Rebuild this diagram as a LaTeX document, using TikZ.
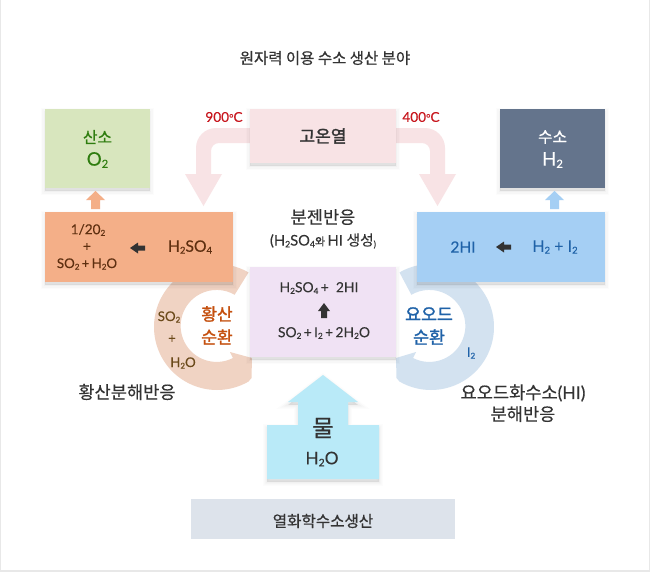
\documentclass[tikz,border=0pt]{standalone}
\usepackage{fontspec}
\setmainfont{Lato}[FakeBold=0.15]
\newfontfamily\kr{Noto Sans CJK KR}[FakeBold=0.3]
\newfontfamily\krb{Noto Sans CJK KR}[FakeBold=0.8]
\newfontfamily\krbb{Noto Sans CJK KR}[FakeBold=1.6]
\usetikzlibrary{shadows}
\definecolor{ink}{HTML}{333333}
\definecolor{heat}{HTML}{F8E3E5}
\definecolor{oxy}{HTML}{D8E6BE}
\definecolor{hyd}{HTML}{64748C}
\definecolor{org}{HTML}{F4AF88}
\definecolor{blu}{HTML}{A5CFF4}
\definecolor{pur}{HTML}{F0E2F4}
\definecolor{wat}{HTML}{B9EAF8}
\definecolor{bar}{HTML}{DDE3EB}
\definecolor{ringo}{HTML}{F0D3C3}
\definecolor{ringb}{HTML}{D3E2F0}
\definecolor{redt}{HTML}{C8171E}
\definecolor{grn}{HTML}{2F7D0F}
\definecolor{brn}{HTML}{5E2F10}
\definecolor{bluet}{HTML}{1F62A8}
\definecolor{olv}{HTML}{6B4A1A}
\definecolor{orgt}{HTML}{C5500F}
\newcommand{\lsub}[1]{\raisebox{-0.12em}{\scalebox{0.6}{#1}}}
\newcommand{\fs}[1]{\fontsize{#1}{#1}\selectfont}
\tikzset{
  softshadow/.style={
    general shadow={shadow xshift=0pt,shadow yshift=-2.2pt,draw=black,line width=6pt,fill=black,opacity=.012},
    general shadow={shadow xshift=0pt,shadow yshift=-2.2pt,draw=black,line width=4pt,fill=black,opacity=.018},
    general shadow={shadow xshift=0pt,shadow yshift=-2.2pt,draw=black,line width=2pt,fill=black,opacity=.025},
    general shadow={shadow xshift=0pt,shadow yshift=-2.2pt,fill=black,opacity=.03}},
  boxn/.style={rectangle,inner sep=0pt,outer sep=0pt,anchor=north west},
  lbl/.style={inner sep=0pt,outer sep=0pt,align=center,text=ink}
}
\begin{document}
\begin{tikzpicture}[x=0.75pt,y=-0.75pt]
\useasboundingbox (0,0) rectangle (650,572);
\fill[white] (0,0) rectangle (650,572);
\draw[color=black!9,line width=1.2pt] (0.5,0) -- (0.5,571.2) -- (649.5,571.2) -- (649.5,0);

% rings
\fill[ringo] (217,327) ++(-60:63) arc[start angle=-60,end angle=-300,radius=63]
  -- (251.5,378) -- (252,358) -- (230,352) -- (233,358)
  arc[start angle=63,end angle=300,radius=36] -- cycle;
\fill[ringb] (431,327) ++(-120:63) arc[start angle=-120,end angle=120,radius=63]
  -- (396.5,378) -- (396,358) -- (416,352) -- (413,358)
  arc[start angle=117,end angle=-120,radius=36] -- cycle;

% heat arrows
\fill[heat] (252,128) -- (216,128) arc[start angle=270,end angle=180,radius=20] -- (196,174) -- (185,174) -- (203.5,206) -- (222,174) -- (211,174) -- (211,151) arc[start angle=180,end angle=270,radius=8] -- (252,143) -- cycle;
\fill[heat] (394,128) -- (425,128) arc[start angle=270,end angle=360,radius=20] -- (445,174) -- (456,174) -- (437.5,206) -- (419,174) -- (430,174) -- (430,151) arc[start angle=0,end angle=-90,radius=8] -- (394,143) -- cycle;

% boxes
\node[boxn,fill=oxy,softshadow,minimum width=105*0.75pt,minimum height=79*0.75pt] (oxybox) at (45,109) {};
\node[boxn,fill=hyd,softshadow,minimum width=105*0.75pt,minimum height=79*0.75pt] (hydbox) at (500,109) {};
\node[boxn,fill=heat,softshadow,minimum width=146*0.75pt,minimum height=54*0.75pt] (heatbox) at (250,109) {};
\node[boxn,fill=org,softshadow,minimum width=188*0.75pt,minimum height=70*0.75pt] (orgbox) at (45,212) {};
\node[boxn,fill=blu,softshadow,minimum width=188*0.75pt,minimum height=70*0.75pt] (blubox) at (417,212) {};
\node[boxn,fill=pur,softshadow,minimum width=146*0.75pt,minimum height=90*0.75pt] (purbox) at (250,267) {};
\node[boxn,fill=bar,minimum width=264*0.75pt,minimum height=40*0.75pt] (barbox) at (191,499) {};

% water
\fill[wat,
 general shadow={shadow xshift=0pt,shadow yshift=-2.2pt,draw=black,line width=6pt,fill=black,opacity=.012},
 general shadow={shadow xshift=0pt,shadow yshift=-2.2pt,draw=black,line width=4pt,fill=black,opacity=.018},
 general shadow={shadow xshift=0pt,shadow yshift=-2.2pt,draw=black,line width=2pt,fill=black,opacity=.025},
 general shadow={shadow xshift=0pt,shadow yshift=-2.2pt,fill=black,opacity=.03}]
 (267,425) -- (298,425) -- (298,402) -- (288,402) -- (323,375) -- (358,402) -- (348,402) -- (348,425) -- (379,425) -- (379,479) -- (267,479) -- cycle;

% small arrows
\fill[org] (91,209) -- (91,200) -- (86,200) -- (95.5,191) -- (105,200) -- (100,200) -- (100,209) -- cycle;
\fill[blu] (550,209) -- (550,200) -- (545,200) -- (554.5,191) -- (564,200) -- (559,200) -- (559,209) -- cycle;
\fill[ink] (145,245.5) -- (138,245.5) -- (138,242.5) -- (130,248) -- (138,253.5) -- (138,250.5) -- (145,250.5) -- cycle;
\fill[ink] (511,244.5) -- (504,244.5) -- (504,241.5) -- (496,247) -- (504,252.5) -- (504,249.5) -- (511,249.5) -- cycle;
\fill[ink] (321,318) -- (321,311) -- (318,311) -- (324,303) -- (330,311) -- (327,311) -- (327,318) -- cycle;

% texts
\node[lbl] (title) at (325,58) {\krb\fs{11.6}원자력 이용 수소 생산 분야};
\node[lbl,text=redt] (t900) at (224,117) {\fs{10.2}900\fs{8}°\fs{10.2}C};
\node[lbl,text=redt] (t400) at (421,117) {\fs{10.2}400\fs{8}°\fs{10.2}C};
\node[lbl] (heatt) at (323,136) {\krbb\fs{12.8}고온열};
\node[lbl,text=grn] (oxy1) at (97.5,137) {\krb\fs{11.8}산소};
\node[lbl,text=grn] (oxy2) at (97.5,160) {\fs{14}O\lsub{2}};
\node[lbl,text=white] (hyd1) at (552.5,137) {\krb\fs{11.8}수소};
\node[lbl,text=white] (hyd2) at (552.5,160) {\fs{14}H\lsub{2}};
\node[lbl,text=brn] (org1) at (88,230) {\fs{10.2}1/20\lsub{2}};
\node[lbl,text=brn] (org2) at (87,247) {\fs{10.2}+};
\node[lbl,text=brn] (org3) at (87,264) {\fs{10}SO\lsub{2}\,+\,H\lsub{2}O};
\node[lbl,text=brn] (org4) at (190,247) {\fs{11.8}H\lsub{2}SO\lsub{4}};
\node[lbl,text=bluet] (b1) at (463,247) {\fs{11.6}2HI};
\node[lbl,text=bluet] (b2) at (555,247) {\fs{12}H\lsub{2} + I\lsub{2}};
\node[lbl] (bun1) at (323,217) {\kr\fs{13.2}분젠반응};
\node[lbl] (bun2) at (323,241) {\fs{11}(H\lsub{2}SO\lsub{4}{\kr\scalebox{.75}{와}}\,HI {\kr\fs{11}생성}\lsub{)}};
\node[lbl] (p1) at (319,288) {\fs{10.4}H\lsub{2}SO\lsub{4}\,+\ \ 2HI};
\node[lbl] (p2) at (324,333) {\fs{10.4}SO\lsub{2}\,+\,I\lsub{2}\,+\,2H\lsub{2}O};
\node[lbl,text=orgt] (s1) at (217,314) {\krbb\fs{12.8}황산};
\node[lbl,text=orgt] (s2) at (217,337) {\krbb\fs{12.8}순환};
\node[lbl,text=bluet] (i1) at (429,314) {\krbb\fs{13}요오드};
\node[lbl,text=bluet] (i2) at (429,337) {\krbb\fs{13}순환};
\node[lbl,text=olv] (c1) at (169,317) {\fs{10}SO\lsub{2}};
\node[lbl,text=olv] (c2) at (172,339) {\fs{10}+};
\node[lbl,text=olv] (c3) at (183,363) {\fs{10}H\lsub{2}O};
\node[lbl,text=bluet] (c4) at (471,353) {\fs{10}I\lsub{2}};
\node[lbl] (r1) at (127,392) {\kr\fs{13.2}황산분해반응};
\node[lbl] (r2) at (523,393) {\kr\fs{13.2}요오드화수소{\rmfamily(HI)}};
\node[lbl] (r3) at (523,414) {\kr\fs{13.2}분해반응};
\node[lbl] (w1) at (323,428) {\krb\fs{17.5}물};
\node[lbl] (w2) at (322,459) {\fs{13}H\lsub{2}O};
\node[lbl] (bart) at (323,521) {\krb\fs{11.7}열화학수소생산};
\end{tikzpicture}
\end{document}
